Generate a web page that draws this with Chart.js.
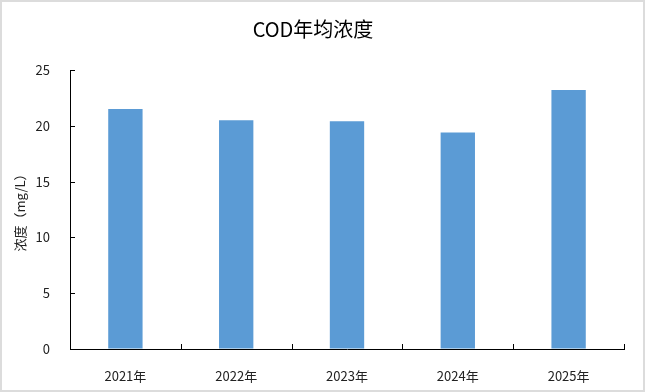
<!DOCTYPE html>
<html>
<head>
<meta charset="utf-8">
<script src="https://cdn.jsdelivr.net/npm/chart.js@4"></script>
<style>
  html, body { margin: 0; padding: 0; background: #fff; }
  .frame { width: 645px; height: 392px; box-sizing: border-box; border: 2px solid #dcdcdc; }
  canvas { display: block; }
</style>
</head>
<body>
<div class="frame"><canvas id="chart-cod" width="641" height="388"></canvas></div>
<script>
// 年份 + 年均浓度 (mg/L)
const years = ["2021年", "2022年", "2023年", "2024年", "2025年"];
const codValues = [21.5, 20.5, 20.4, 19.4, 23.2];
const yTicks = [0, 5, 10, 15, 20, 25];

const FONT = "'Noto Sans CJK SC', 'Noto Sans', sans-serif";

// ticks drawn pointing inward, like the original
const innerTicks = {
  id: 'innerTicks',
  afterDraw(chart) {
    const { ctx, chartArea, scales } = chart;
    const x = scales.x, y = scales.y;
    ctx.save();
    ctx.strokeStyle = '#000';
    ctx.lineWidth = 1;
    ctx.beginPath();
    for (const v of yTicks) {
      const py = Math.round(y.getPixelForValue(v)) + 0.5;
      ctx.moveTo(chartArea.left, py);
      ctx.lineTo(chartArea.left + 5, py);
    }
    const half = (x.getPixelForValue(1) - x.getPixelForValue(0)) / 2;
    for (let i = 0; i <= years.length; i++) {
      const px = Math.round(x.getPixelForValue(i) - half) + 0.5;
      ctx.moveTo(px, chartArea.bottom);
      ctx.lineTo(px, chartArea.bottom - 5);
    }
    ctx.stroke();
    ctx.restore();
  }
};

new Chart(document.getElementById('chart-cod'), {
  type: 'bar',
  data: {
    labels: years,
    datasets: [{
      label: 'COD',
      data: codValues,
      backgroundColor: '#5b9bd5',
      borderWidth: 0,
      categoryPercentage: 1,
      barPercentage: 0.31
    }]
  },
  options: {
    responsive: false,
    animation: false,
    layout: { padding: { left: 0, right: 19, top: 0, bottom: 0 } },
    plugins: {
      legend: { display: false },
      tooltip: { enabled: false },
      title: {
        display: true,
        text: 'COD年均浓度',
        color: '#000',
        font: { family: FONT, size: 20, weight: 'normal', lineHeight: 1.2 },
        padding: { top: 15, bottom: 29 }
      }
    },
    scales: {
      x: {
        grid: { display: false },
        border: { display: true, color: '#000', width: 1 },
        ticks: { color: '#222', font: { family: FONT, size: 13 }, padding: 11, maxRotation: 0 },
        afterFit(scale) { scale.height = 41; }
      },
      y: {
        min: 0,
        max: 25,
        afterBuildTicks(scale) { scale.ticks = yTicks.map(v => ({ value: v })); },
        grid: { display: true, drawOnChartArea: false, drawTicks: false },
        border: { display: true, color: '#000', width: 1 },
        ticks: { color: '#222', font: { family: FONT, size: 13 }, padding: 20 },
        title: {
          display: true,
          text: '浓度（mg/L）',
          color: '#222',
          font: { family: FONT, size: 13 },
          padding: { top: 10, bottom: 0 }
        },
        afterFit(scale) { scale.width = 68; }
      }
    }
  },
  plugins: [innerTicks]
});
</script>
</body>
</html>
